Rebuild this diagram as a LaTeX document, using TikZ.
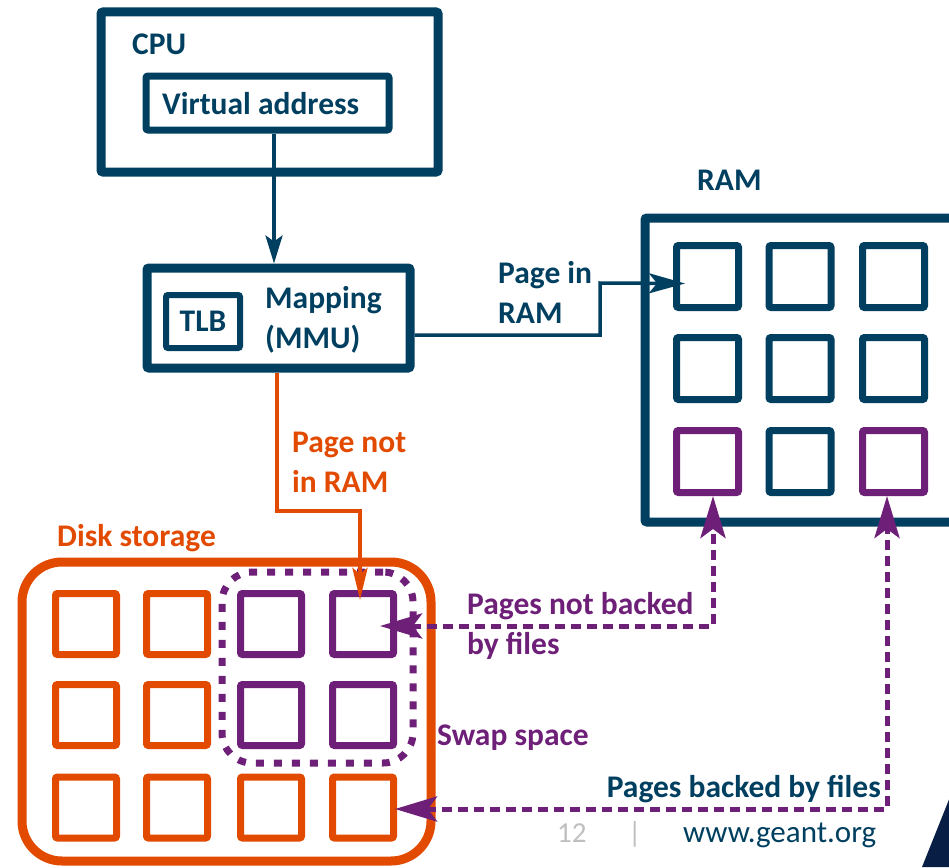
\documentclass[tikz,border=0pt]{standalone}
\usepackage{fontspec}
\setmainfont{Carlito}
\usetikzlibrary{arrows.meta,calc}
\definecolor{geantblue}{RGB}{0,63,95}
\definecolor{swappurple}{RGB}{110,31,120}
\definecolor{diskorange}{RGB}{226,74,0}
\definecolor{footgray}{RGB}{191,191,191}
\definecolor{cornernavy}{RGB}{8,30,68}
\tikzset{
  box/.style={draw=geantblue, line width=9pt, rounded corners=2pt, inner sep=0pt},
  cell/.style={draw, line width=7pt, rounded corners=2pt, inner sep=0pt,
    minimum width=61pt, minimum height=61pt},
  ramcell/.style={cell, draw=geantblue, minimum width=62pt, minimum height=62pt},
  ramswap/.style={ramcell, draw=swappurple},
  diskcell/.style={cell, draw=diskorange},
  swapcell/.style={cell, draw=swappurple},
  txt/.style={font=\fontsize{31.5}{40}\selectfont\bfseries, inner sep=0pt,
    anchor=base west, align=left},
  blueline/.style={draw=geantblue, line width=3.5pt},
  orangeline/.style={draw=diskorange, line width=4pt},
  purpledash/.style={draw=swappurple, line width=5pt, dash pattern=on 10pt off 6pt},
  bluetip/.tip={Stealth[length=36pt, width=20pt, inset=8pt]},
  purpletip/.tip={Stealth[length=42pt, width=25pt, inset=9pt]},
}
\begin{document}
\begin{tikzpicture}[x=1pt, y=-1pt]
\path[use as bounding box, clip] (0,0) rectangle (949,867);

% CPU with its virtual address register
\node[box, minimum width=337pt, minimum height=160pt] (cpu) at (269.5,92) {};
\node[txt, text=geantblue] (cpulbl) at (132,54) {CPU};
\node[box, line width=7pt, minimum width=243pt, minimum height=54pt] (va) at (267.5,103) {};
\node[txt, text=geantblue] (valbl) at (162,114) {Virtual address};

% MMU with the TLB
\node[box, minimum width=263pt, minimum height=100pt] (map) at (278.5,318) {};
\node[box, line width=6pt, minimum width=74pt, minimum height=53pt,
  font=\fontsize{31.5}{40}\selectfont\bfseries, text=geantblue] (tlb) at (203,321.5) {TLB};
\node[txt, text=geantblue] (maplbl) at (265,348) {Mapping\\(MMU)};

% RAM and its page frames
\node[txt, text=geantblue] (ramlbl) at (697,190) {RAM};
\node[box, minimum width=355pt, minimum height=304pt] (ram) at (822.5,370) {};
\node[ramcell] (r11) at (707.5,276.5) {};
\node[ramcell] (r12) at (800,276.5) {};
\node[ramcell] (r13) at (893.5,276.5) {};
\node[ramcell] (r21) at (707.5,368.5) {};
\node[ramcell] (r22) at (800,368.5) {};
\node[ramcell] (r23) at (893.5,368.5) {};
\node[ramswap] (r31) at (707.5,461.5) {};
\node[ramcell] (r32) at (800,461.5) {};
\node[ramswap] (r33) at (893.5,461.5) {};

% Disk storage with the swap area
\node[txt, text=diskorange] (disklbl) at (57,546) {Disk storage};
\node[draw=diskorange, line width=9pt, rounded corners=40pt, inner sep=0pt,
  minimum width=409pt, minimum height=299pt] (disk) at (226.5,711.5) {};
\node[diskcell] (d11) at (86,624) {};
\node[diskcell] (d12) at (177,624) {};
\node[swapcell] (d13) at (271,624) {};
\node[swapcell] (d14) at (363,624) {};
\node[diskcell] (d21) at (86,715) {};
\node[diskcell] (d22) at (177,715) {};
\node[swapcell] (d23) at (271,715) {};
\node[swapcell] (d24) at (363,715) {};
\node[diskcell] (d31) at (86,807.5) {};
\node[diskcell] (d32) at (177,807.5) {};
\node[diskcell] (d33) at (271,807.5) {};
\node[diskcell] (d34) at (363,807.5) {};
\node[draw=swappurple, line width=7pt, dash pattern=on 8pt off 10pt,
  rounded corners=30pt, inner sep=0pt, minimum width=191pt, minimum height=191pt]
  (swap) at (317.5,667.5) {};
\node[txt, text=swappurple] (swaplbl) at (437,745) {Swap space};

% Address translation paths
\draw[blueline, -{Stealth[length=28pt, width=17pt, inset=6pt]}]
  ($(va.south)+(6.5,0)$) -- ($(map.north)+(-4.5,0)$);
\coordinate (pin) at (600,283);
\draw[blueline, -bluetip] ($(map.east)+(0,17)$) -| (pin) -- ($(r11.west)+(12,7)$);
\node[txt, text=geantblue] (pinlbl) at (498,323) {Page in\\RAM};

\draw[orangeline, -{Stealth[length=32pt, width=15pt, inset=6pt]}]
  ($(map.south)+(-1.5,0)$) -- ++(0,138) -| ($(d14.north)+(-3,10)$);
\node[txt, text=diskorange] (poutlbl) at (292,492) {Page not\\in RAM};

% Paging between RAM and disk
\draw[purpledash, purpletip-purpletip] ($(d14.east)+(-17,2)$) -| ($(r31.south)+(5.5,0)$);
\node[txt, text=swappurple] (anonlbl) at (467,654) {Pages not backed\\by files};
\draw[purpledash, purpletip-purpletip] ($(d34.east)+(-2,1.5)$) -| ($(r33.south)+(-6.5,0)$);
\node[txt, text=geantblue, anchor=base east] (filelbl) at (881,797) {Pages backed by files};

% Slide footer
\node[font=\fontsize{29}{36}\selectfont, text=footgray, inner sep=0pt, anchor=base west] (pgno) at (557,842) {12};
\node[font=\fontsize{29}{36}\selectfont, text=footgray, inner sep=0pt, anchor=base west] (sep) at (628,842) {|};
\node[font=\fontsize{31}{36}\selectfont, text=geantblue, inner sep=0pt, anchor=base west] (url) at (683,842) {www.geant.org};
\fill[cornernavy] (922,867) -- (952,792) -- (952,867) -- cycle;
\end{tikzpicture}
\end{document}
